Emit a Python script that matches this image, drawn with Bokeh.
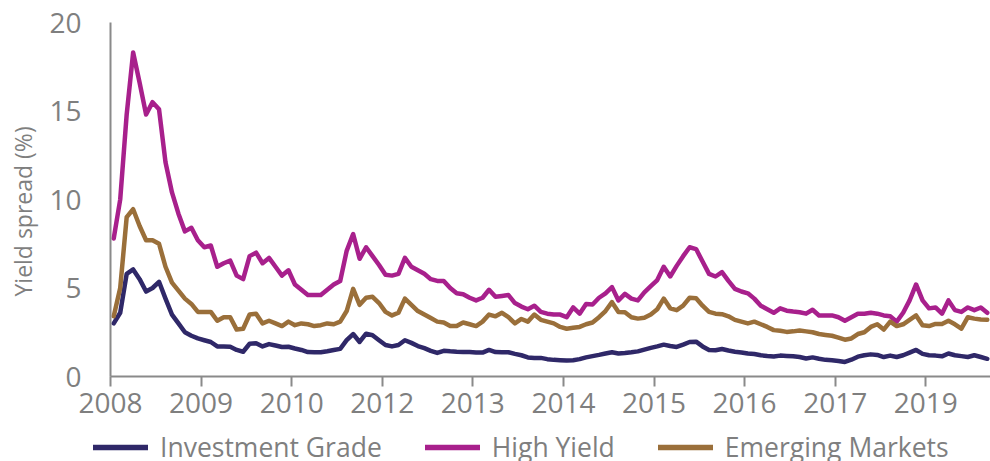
from bokeh.plotting import figure
from bokeh.layouts import column
from bokeh.models import FixedTicker, Legend, LegendItem, Range1d
from bokeh.embed import file_html
from bokeh.resources import INLINE

# ---- data (monthly spreads, %) ----
tick_positions = [0, 14, 28, 42, 56, 70, 84, 98, 112, 126]
tick_labels = ["2008", "2009", "2010", "2012", "2013", "2014", "2015", "2016", "2017", "2019"]
y_ticks = [0, 5, 10, 15, 20]

investment_grade = [
    3.0, 3.6, 5.8, 6.05, 5.5, 4.8, 5.0, 5.35, 4.4, 3.5,
    3.0, 2.5, 2.3, 2.15, 2.05, 1.95, 1.7, 1.7, 1.68, 1.5,
    1.4, 1.85, 1.88, 1.7, 1.83, 1.75, 1.67, 1.68, 1.58, 1.5,
    1.38, 1.37, 1.37, 1.43, 1.5, 1.56, 2.05, 2.4, 1.95, 2.42,
    2.33, 2.05, 1.78, 1.7, 1.78, 2.05, 1.9, 1.72, 1.6, 1.45,
    1.33, 1.45, 1.42, 1.4, 1.39, 1.38, 1.36, 1.35, 1.5, 1.38,
    1.37, 1.37, 1.28, 1.2, 1.08, 1.05, 1.05, 0.98, 0.94, 0.92,
    0.9, 0.92, 0.98, 1.08, 1.15, 1.22, 1.3, 1.37, 1.3, 1.33,
    1.37, 1.42, 1.52, 1.62, 1.7, 1.8, 1.72, 1.67, 1.8, 1.95,
    1.97, 1.7, 1.5, 1.48, 1.55, 1.47, 1.4, 1.36, 1.3, 1.27,
    1.2, 1.16, 1.13, 1.18, 1.16, 1.14, 1.1, 1.02, 1.08, 1.0,
    0.94, 0.92, 0.88, 0.82, 0.95, 1.12, 1.2, 1.25, 1.22, 1.1,
    1.18, 1.1, 1.2, 1.35, 1.5, 1.28, 1.2, 1.18, 1.14, 1.3,
    1.2, 1.15, 1.1, 1.2, 1.1, 1.0,
]
high_yield = [
    7.8, 10.0, 14.8, 18.3, 16.6, 14.8, 15.5, 15.1, 12.1, 10.4,
    9.2, 8.2, 8.4, 7.7, 7.3, 7.4, 6.2, 6.4, 6.55, 5.7,
    5.5, 6.8, 7.0, 6.4, 6.7, 6.2, 5.7, 6.0, 5.2, 4.9,
    4.6, 4.6, 4.6, 4.9, 5.2, 5.4, 7.1, 8.05, 6.65, 7.3,
    6.8, 6.3, 5.75, 5.7, 5.8, 6.7, 6.2, 6.0, 5.8, 5.5,
    5.4, 5.4, 5.0, 4.7, 4.65, 4.45, 4.3, 4.45, 4.9, 4.5,
    4.55, 4.6, 4.15, 3.95, 3.8, 4.0, 3.65, 3.55, 3.5, 3.5,
    3.35, 3.9, 3.55, 4.1, 4.07, 4.45, 4.7, 5.05, 4.3, 4.67,
    4.4, 4.3, 4.75, 5.1, 5.45, 6.2, 5.65, 6.25, 6.8, 7.3,
    7.2, 6.5, 5.8, 5.65, 5.9, 5.4, 4.95, 4.8, 4.7, 4.4,
    4.0, 3.8, 3.6, 3.85, 3.72, 3.67, 3.63, 3.55, 3.77, 3.45,
    3.45, 3.45, 3.35, 3.15, 3.35, 3.55, 3.55, 3.6, 3.55, 3.45,
    3.4, 3.1, 3.6, 4.3, 5.2, 4.3, 3.85, 3.9, 3.55, 4.3,
    3.75, 3.65, 3.9, 3.75, 3.9, 3.6,
]
emerging_markets = [
    3.4, 5.0, 9.0, 9.45, 8.5, 7.7, 7.7, 7.5, 6.2, 5.3,
    4.85, 4.4, 4.1, 3.65, 3.65, 3.65, 3.15, 3.35, 3.35, 2.65,
    2.7, 3.5, 3.55, 3.0, 3.15, 3.0, 2.85, 3.1, 2.9, 3.0,
    2.95, 2.85, 2.9, 3.0, 2.95, 3.1, 3.7, 4.95, 4.05, 4.45,
    4.5, 4.15, 3.65, 3.45, 3.6, 4.4, 4.05, 3.7, 3.5, 3.3,
    3.1, 3.05, 2.85, 2.85, 3.05, 2.95, 2.85, 3.1, 3.5, 3.4,
    3.6, 3.35, 3.0, 3.25, 3.1, 3.5, 3.2, 3.1, 3.0, 2.8,
    2.7, 2.75, 2.8, 2.95, 3.05, 3.35, 3.7, 4.2, 3.65, 3.63,
    3.35, 3.27, 3.32, 3.5, 3.8, 4.4, 3.85, 3.75, 4.0, 4.45,
    4.42, 4.0, 3.65, 3.55, 3.52, 3.4, 3.2, 3.1, 3.0, 3.1,
    2.95, 2.8, 2.62, 2.58, 2.52, 2.55, 2.6, 2.55, 2.5, 2.4,
    2.35, 2.3, 2.2, 2.08, 2.15, 2.4, 2.5, 2.8, 2.95, 2.65,
    3.1, 2.85, 2.95, 3.2, 3.45, 2.9, 2.85, 2.97, 2.97, 3.15,
    2.95, 2.7, 3.35, 3.27, 3.22, 3.2,
]
series_names = ["Investment Grade", "High Yield", "Emerging Markets"]
series_colors = ["#2f2868", "#a8208c", "#9a6f3a"]

n = len(investment_grade)
xs = [i + 0.5 for i in range(n)]

FONT = "Open Sans"
GREY = "#7f7f7f"
AXIS_GREY = "#8a8a8a"
MAIN_H = 432
LEG_H = 461 - MAIN_H

p = figure(
    width=990, height=MAIN_H, output_backend="svg", toolbar_location=None,
    x_range=Range1d(0, n), y_range=Range1d(0, 20),
    min_border_left=110, min_border_right=0, min_border_top=22,
    min_border_bottom=MAIN_H - 376,
    background_fill_color="white", border_fill_color="white",
)
p.outline_line_color = None
p.xgrid.visible = False
p.ygrid.visible = False

for data, color in zip([investment_grade, high_yield, emerging_markets], series_colors):
    p.line(xs, data, line_color=color, line_width=4.5, line_join="round", line_cap="round")

# x axis
xa = p.xaxis[0]
xa.ticker = FixedTicker(ticks=tick_positions)
xa.major_label_overrides = {t: l for t, l in zip(tick_positions, tick_labels)}
xa.axis_line_color = AXIS_GREY
xa.axis_line_width = 2
xa.major_tick_line_color = AXIS_GREY
xa.major_tick_line_width = 2
xa.major_tick_out = 10
xa.major_tick_in = 0
xa.minor_tick_line_color = None
xa.major_label_text_font = FONT
xa.major_label_text_font_size = "28px"
xa.major_label_text_color = GREY
xa.major_label_standoff = 6

# y axis (label padded with no-break spaces so it sits slightly lower, as in the source)
ya = p.yaxis[0]
ya.ticker = FixedTicker(ticks=y_ticks)
ya.axis_line_color = AXIS_GREY
ya.axis_line_width = 2
ya.major_tick_line_color = None
ya.major_tick_out = 0
ya.major_tick_in = 0
ya.minor_tick_line_color = None
ya.major_label_text_font = FONT
ya.major_label_text_font_size = "28px"
ya.major_label_text_color = GREY
ya.major_label_standoff = 29
ya.axis_label = "Yield spread (%)" + "\u00a0" * 4
ya.axis_label_text_font = FONT
ya.axis_label_text_font_size = "23px"
ya.axis_label_text_font_style = "normal"
ya.axis_label_text_color = GREY
ya.axis_label_standoff = 7

# ---- legend strip below the chart ----
leg = figure(
    width=990, height=LEG_H, output_backend="svg", toolbar_location=None,
    x_range=Range1d(0, 990), y_range=Range1d(0, LEG_H),
    x_axis_type=None, y_axis_type=None,
    min_border_left=0, min_border_right=0, min_border_top=0, min_border_bottom=0,
    background_fill_color="white", border_fill_color="white",
)
leg.outline_line_color = None
leg.xgrid.visible = False
leg.ygrid.visible = False

legend_x = 93
if "frame_align" in leg.properties():
    leg.frame_align = False
    p.frame_align = False
else:
    legend_x = 93 - 110

dummies = [
    leg.line([-10, -5], [-10, -10], line_color=c, line_width=5.5, line_cap="round")
    for c in series_colors
]
legend = Legend(
    items=[LegendItem(label=nm, renderers=[r]) for nm, r in zip(series_names, dummies)],
    orientation="horizontal",
    location=(legend_x, -4),
    glyph_width=55, glyph_height=20,
    label_standoff=12, spacing=43, padding=0, margin=0,
    border_line_color=None, background_fill_alpha=0,
    label_text_font=FONT, label_text_font_size="26.5px", label_text_color=GREY,
)
leg.add_layout(legend, "center")

layout = column(p, leg, spacing=0)
open("out.html", "w").write(file_html(layout, INLINE))
